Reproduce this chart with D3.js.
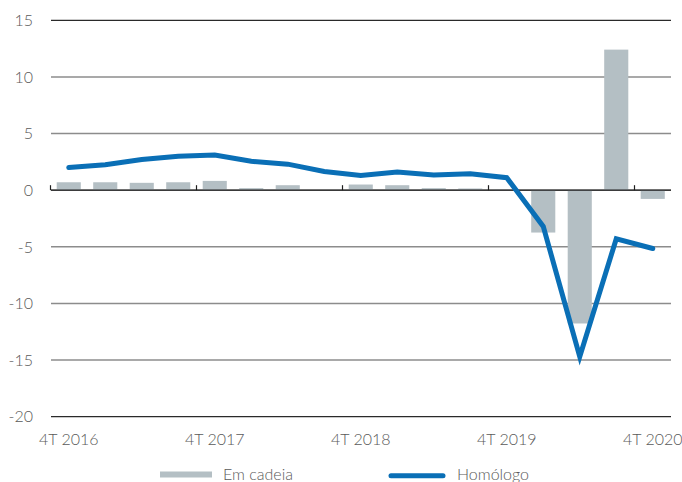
<!DOCTYPE html>
<html>
<head>
<meta charset="utf-8">
<script src="https://cdn.jsdelivr.net/npm/d3@7"></script>
<style>
	body { margin: 0; background: #fff; }
	text { font-family: Lato, "Open Sans", sans-serif; fill: #5a5a5a; font-weight: 300; }
</style>
</head>
<body>
<svg id="chart" width="682" height="482"></svg>
<script>
var quarters = ["4T 2016", "1T 2017", "2T 2017", "3T 2017", "4T 2017", "1T 2018", "2T 2018", "3T 2018",
	"4T 2018", "1T 2019", "2T 2019", "3T 2019", "4T 2019", "1T 2020", "2T 2020", "3T 2020", "4T 2020"];
var emCadeia = [0.7, 0.7, 0.65, 0.7, 0.82, 0.18, 0.44, 0.0, 0.5, 0.44, 0.18, 0.15, 0.05, -3.74, -11.77, 12.41, -0.77];
var homologo = [2.0, 2.25, 2.7, 3.0, 3.1, 2.55, 2.3, 1.65, 1.3, 1.6, 1.35, 1.45, 1.1, -3.2, -14.7, -4.3, -5.15];
var yTicks = [15, 10, 5, 0, -5, -10, -15, -20];
var xLabels = ["4T 2016", "4T 2017", "4T 2018", "4T 2019", "4T 2020"];

var barColor = "#b4bfc4";
var lineColor = "#0a6fb6";

var svg = d3.select("#chart");

var x = d3.scaleBand()
	.domain(quarters)
	.range([50.5, 671])
	.paddingInner(0.34)
	.paddingOuter(0.17);

var y = d3.scaleLinear()
	.domain([-20, 15])
	.range([416.7, 20.3]);

// gridlines
svg.append("g").selectAll("line")
	.data(yTicks)
	.enter()
	.append("line")
	.attr("x1", 51)
	.attr("x2", 671)
	.attr("y1", function(d) { return y(d); })
	.attr("y2", function(d) { return y(d); })
	.style("stroke", function(d) { return (d == 15 || d == -20) ? "#2a2a2a" : "#8c8c8c"; })
	.style("stroke-width", function(d) { return (d == 15 || d == -20) ? 1.2 : 1.5; });

// y labels
svg.append("g").selectAll("text")
	.data(yTicks)
	.enter()
	.append("text")
	.attr("x", 33)
	.attr("y", function(d) { return y(d); })
	.attr("dy", "0.36em")
	.style("text-anchor", "end")
	.style("font-size", "16px")
	.text(function(d) { return d; });

// bars
svg.append("g").selectAll("rect")
	.data(emCadeia)
	.enter()
	.append("rect")
	.attr("x", function(d, i) { return x(quarters[i]); })
	.attr("y", function(d) { return y(Math.max(0, d)); })
	.attr("width", x.bandwidth())
	.attr("height", function(d) { return Math.abs(y(d) - y(0)); })
	.style("fill", barColor);

// zero line and ticks
svg.append("line")
	.attr("x1", 51)
	.attr("x2", 671)
	.attr("y1", y(0))
	.attr("y2", y(0))
	.style("stroke", "#1e1e1e")
	.style("stroke-width", 1.2);

var half = x.step() * x.paddingInner() / 2;
svg.append("g").selectAll("line")
	.data(xLabels)
	.enter()
	.append("line")
	.attr("x1", function(d) { return x(d) - half; })
	.attr("x2", function(d) { return x(d) - half; })
	.attr("y1", y(0) - 5)
	.attr("y2", y(0))
	.style("stroke", "#1e1e1e")
	.style("stroke-width", 1.2);

// x labels
svg.append("g").selectAll("text")
	.data(xLabels)
	.enter()
	.append("text")
	.attr("x", function(d) { return x(d) + x.bandwidth() / 2; })
	.attr("y", 445)
	.style("text-anchor", "middle")
	.style("font-size", "16px")
	.text(function(d) { return d; });

// line
var line = d3.line()
	.x(function(d, i) { return x(quarters[i]) + x.bandwidth() / 2; })
	.y(function(d) { return y(d); });

svg.append("path")
	.datum(homologo)
	.attr("d", line)
	.style("fill", "none")
	.style("stroke", lineColor)
	.style("stroke-width", 5)
	.style("stroke-linecap", "round")
	.style("stroke-linejoin", "miter");

// legend
var legend = svg.append("g");
legend.append("rect")
	.attr("x", 160)
	.attr("y", 471.5)
	.attr("width", 52)
	.attr("height", 6)
	.style("fill", barColor);
legend.append("text")
	.attr("x", 223)
	.attr("y", 480)
	.style("font-size", "16px")
	.text("Em cadeia");
legend.append("line")
	.attr("x1", 391)
	.attr("x2", 443)
	.attr("y1", 475.7)
	.attr("y2", 475.7)
	.style("stroke", lineColor)
	.style("stroke-width", 5)
	.style("stroke-linecap", "round");
legend.append("text")
	.attr("x", 457)
	.attr("y", 480)
	.style("font-size", "16px")
	.text("Homólogo");
</script>
</body>
</html>
